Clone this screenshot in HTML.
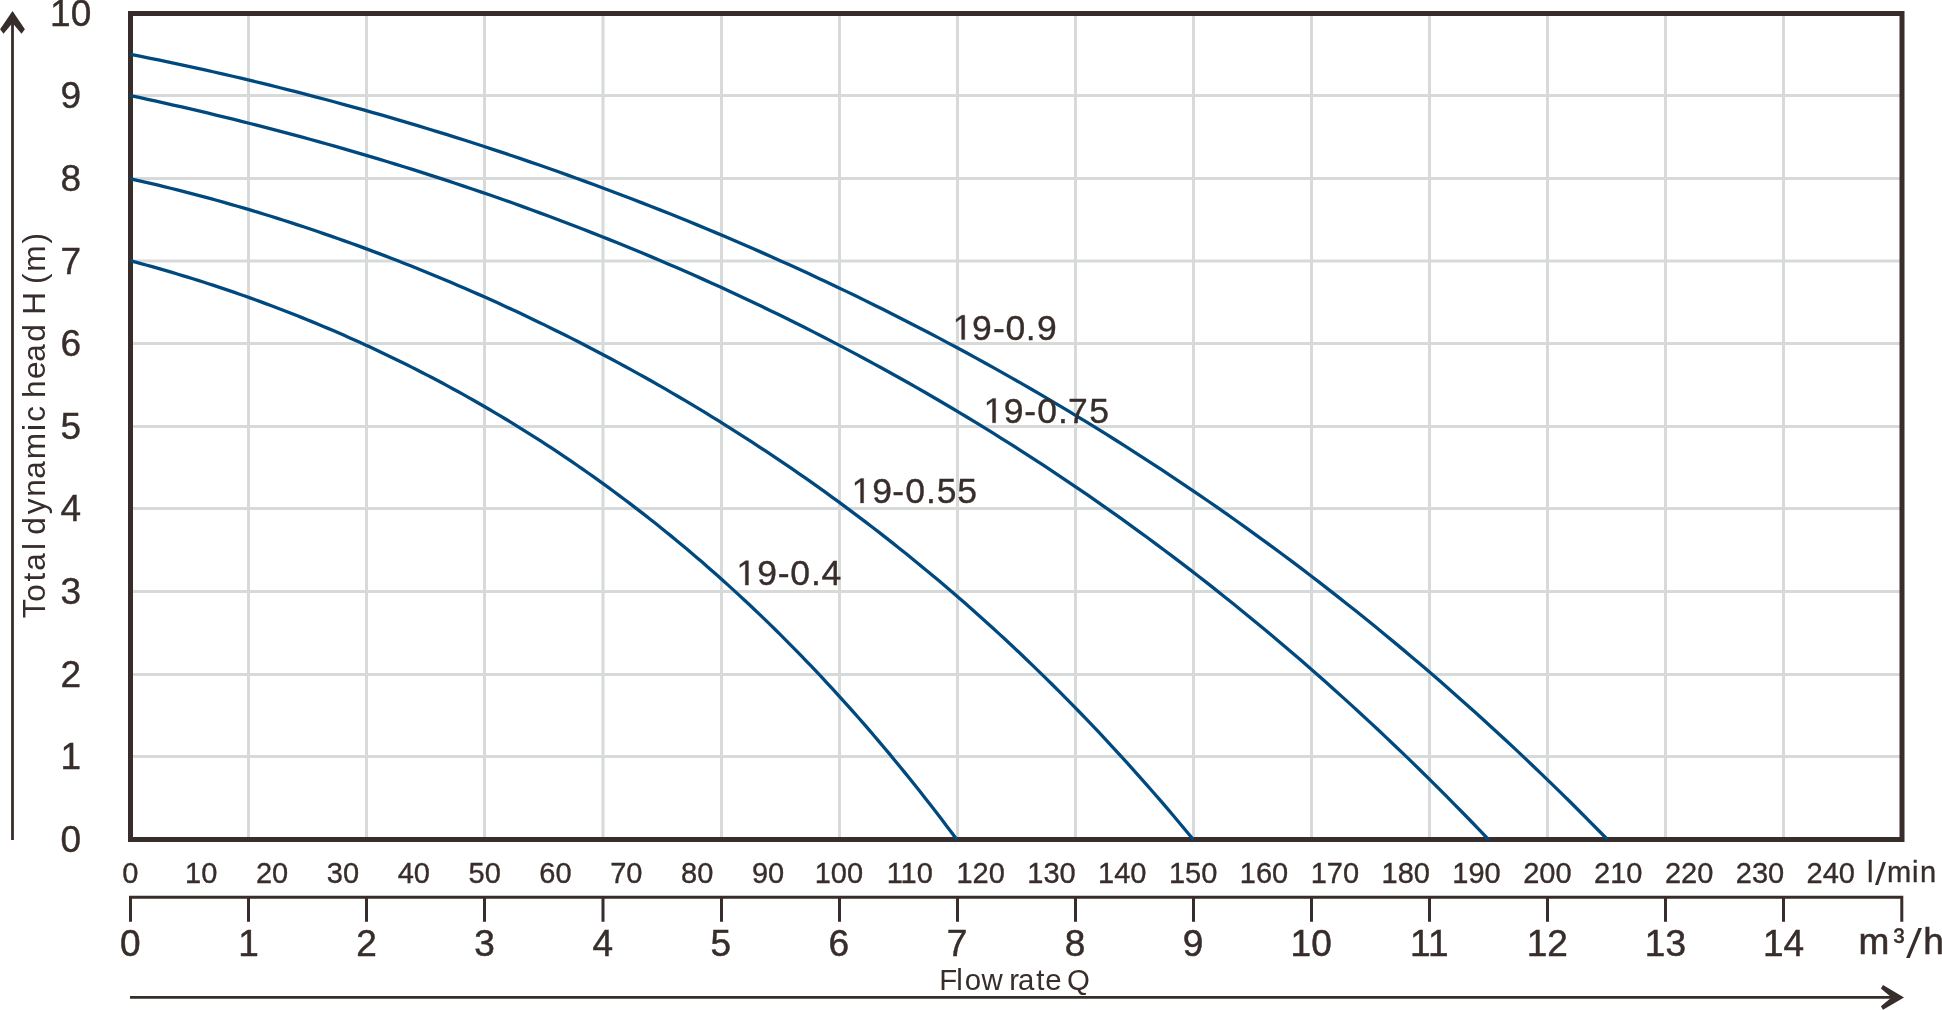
<!DOCTYPE html>
<html><head><meta charset="utf-8"><style>
html,body{margin:0;padding:0;background:#fff;width:1942px;height:1010px;overflow:hidden;position:relative}
</style></head><body>
<svg width="1942" height="1010" viewBox="0 0 1942 1010" style="position:absolute;left:0;top:0;will-change:transform">
<path d="M248.5 13V839M366.5 13V839M484.5 13V839M603 13V839M721.5 13V839M839.5 13V839M957.5 13V839M1075.5 13V839M1193.5 13V839M1311.5 13V839M1429.5 13V839M1547.5 13V839M1665.5 13V839M1783.5 13V839M130 756.5H1902M130 674.5H1902M130 591.5H1902M130 508.5H1902M130 426.5H1902M130 343.5H1902M130 260.9H1902M130 178.5H1902M130 95.5H1902" stroke="#d8d9d9" stroke-width="3" fill="none"/>
<rect x="130.5" y="13.5" width="1771.5" height="826" stroke="#372d2b" stroke-width="5" fill="none"/>
<path d="M130.50 260.81 L135.70 262.19 L140.89 263.60 L146.09 265.02 L151.29 266.46 L156.48 267.93 L161.68 269.41 L166.88 270.92 L172.07 272.45 L177.27 273.99 L182.47 275.56 L187.67 277.15 L192.86 278.76 L198.06 280.39 L203.26 282.05 L208.45 283.72 L213.65 285.42 L218.85 287.14 L224.04 288.87 L229.24 290.64 L234.44 292.42 L239.63 294.22 L244.83 296.05 L250.03 297.90 L255.22 299.77 L260.42 301.66 L265.62 303.58 L270.82 305.52 L276.01 307.48 L281.21 309.46 L286.41 311.47 L291.60 313.50 L296.80 315.56 L302.00 317.63 L307.19 319.73 L312.39 321.86 L317.59 324.00 L322.78 326.18 L327.98 328.37 L333.18 330.59 L338.37 332.83 L343.57 335.10 L348.77 337.40 L353.96 339.71 L359.16 342.06 L364.36 344.42 L369.56 346.82 L374.75 349.24 L379.95 351.68 L385.15 354.15 L390.34 356.65 L395.54 359.17 L400.74 361.72 L405.93 364.29 L411.13 366.89 L416.33 369.52 L421.52 372.18 L426.72 374.86 L431.92 377.57 L437.11 380.31 L442.31 383.08 L447.51 385.87 L452.71 388.69 L457.90 391.54 L463.10 394.42 L468.30 397.33 L473.49 400.27 L478.69 403.24 L483.89 406.23 L489.08 409.26 L494.28 412.31 L499.48 415.40 L504.67 418.52 L509.87 421.67 L515.07 424.84 L520.26 428.05 L525.46 431.29 L530.66 434.57 L535.85 437.87 L541.05 441.21 L546.25 444.58 L551.45 447.98 L556.64 451.42 L561.84 454.89 L567.04 458.39 L572.23 461.92 L577.43 465.49 L582.63 469.10 L587.82 472.73 L593.02 476.41 L598.22 480.12 L603.41 483.86 L608.61 487.64 L613.81 491.46 L619.00 495.31 L624.20 499.20 L629.40 503.12 L634.59 507.08 L639.79 511.08 L644.99 515.12 L650.19 519.20 L655.38 523.31 L660.58 527.46 L665.78 531.66 L670.97 535.89 L676.17 540.16 L681.37 544.47 L686.56 548.82 L691.76 553.21 L696.96 557.64 L702.15 562.12 L707.35 566.63 L712.55 571.19 L717.74 575.79 L722.94 580.43 L728.14 585.12 L733.34 589.85 L738.53 594.62 L743.73 599.43 L748.93 604.29 L754.12 609.20 L759.32 614.15 L764.52 619.15 L769.71 624.19 L774.91 629.28 L780.11 634.41 L785.30 639.59 L790.50 644.82 L795.70 650.10 L800.89 655.42 L806.09 660.80 L811.29 666.22 L816.48 671.69 L821.68 677.21 L826.88 682.78 L832.08 688.40 L837.27 694.07 L842.47 699.80 L847.67 705.57 L852.86 711.40 L858.06 717.28 L863.26 723.21 L868.45 729.20 L873.65 735.24 L878.85 741.33 L884.04 747.48 L889.24 753.68 L894.44 759.94 L899.63 766.26 L904.83 772.63 L910.03 779.05 L915.23 785.54 L920.42 792.08 L925.62 798.68 L930.82 805.34 L936.01 812.06 L941.21 818.83 L946.41 825.67 L951.60 832.57 L956.80 839.53" stroke="#00497f" stroke-width="3.3" fill="none" stroke-linejoin="round"/>
<path d="M130.50 178.81 L137.18 180.30 L143.87 181.83 L150.55 183.39 L157.24 184.97 L163.92 186.59 L170.61 188.23 L177.29 189.90 L183.97 191.60 L190.66 193.33 L197.34 195.09 L204.03 196.88 L210.71 198.69 L217.40 200.53 L224.08 202.41 L230.76 204.30 L237.45 206.23 L244.13 208.19 L250.82 210.17 L257.50 212.18 L264.19 214.22 L270.87 216.29 L277.55 218.38 L284.24 220.50 L290.92 222.65 L297.61 224.83 L304.29 227.04 L310.98 229.27 L317.66 231.53 L324.34 233.82 L331.03 236.13 L337.71 238.47 L344.40 240.84 L351.08 243.24 L357.77 245.67 L364.45 248.12 L371.13 250.60 L377.82 253.11 L384.50 255.65 L391.19 258.21 L397.87 260.81 L404.56 263.43 L411.24 266.08 L417.92 268.75 L424.61 271.46 L431.29 274.19 L437.98 276.95 L444.66 279.75 L451.35 282.56 L458.03 285.41 L464.71 288.29 L471.40 291.20 L478.08 294.13 L484.77 297.10 L491.45 300.09 L498.14 303.12 L504.82 306.17 L511.50 309.26 L518.19 312.37 L524.87 315.52 L531.56 318.69 L538.24 321.90 L544.93 325.13 L551.61 328.40 L558.29 331.70 L564.98 335.03 L571.66 338.40 L578.35 341.79 L585.03 345.22 L591.72 348.68 L598.40 352.17 L605.08 355.69 L611.77 359.25 L618.45 362.84 L625.14 366.47 L631.82 370.13 L638.51 373.82 L645.19 377.55 L651.87 381.31 L658.56 385.11 L665.24 388.94 L671.93 392.81 L678.61 396.72 L685.29 400.66 L691.98 404.64 L698.66 408.65 L705.35 412.71 L712.03 416.80 L718.72 420.93 L725.40 425.09 L732.08 429.30 L738.77 433.54 L745.45 437.83 L752.14 442.15 L758.82 446.51 L765.51 450.92 L772.19 455.37 L778.87 459.85 L785.56 464.38 L792.24 468.95 L798.93 473.57 L805.61 478.22 L812.30 482.92 L818.98 487.67 L825.66 492.46 L832.35 497.29 L839.03 502.17 L845.72 507.09 L852.40 512.06 L859.09 517.08 L865.77 522.15 L872.45 527.26 L879.14 532.42 L885.82 537.63 L892.51 542.89 L899.19 548.19 L905.88 553.55 L912.56 558.96 L919.24 564.42 L925.93 569.93 L932.61 575.49 L939.30 581.11 L945.98 586.78 L952.67 592.50 L959.35 598.28 L966.03 604.11 L972.72 610.00 L979.40 615.95 L986.09 621.95 L992.77 628.00 L999.46 634.12 L1006.14 640.30 L1012.82 646.53 L1019.51 652.82 L1026.19 659.18 L1032.88 665.59 L1039.56 672.07 L1046.25 678.61 L1052.93 685.21 L1059.61 691.87 L1066.30 698.60 L1072.98 705.39 L1079.67 712.25 L1086.35 719.18 L1093.04 726.17 L1099.72 733.23 L1106.40 740.36 L1113.09 747.55 L1119.77 754.82 L1126.46 762.15 L1133.14 769.56 L1139.83 777.04 L1146.51 784.59 L1153.19 792.22 L1159.88 799.91 L1166.56 807.69 L1173.25 815.53 L1179.93 823.46 L1186.62 831.46 L1193.30 839.54" stroke="#00497f" stroke-width="3.3" fill="none" stroke-linejoin="round"/>
<path d="M130.50 95.61 L139.04 97.45 L147.58 99.30 L156.12 101.19 L164.67 103.09 L173.21 105.02 L181.75 106.97 L190.29 108.95 L198.83 110.95 L207.37 112.98 L215.92 115.03 L224.46 117.11 L233.00 119.21 L241.54 121.33 L250.08 123.49 L258.62 125.66 L267.16 127.87 L275.71 130.10 L284.25 132.35 L292.79 134.63 L301.33 136.94 L309.87 139.27 L318.41 141.64 L326.95 144.02 L335.50 146.44 L344.04 148.88 L352.58 151.35 L361.12 153.85 L369.66 156.38 L378.20 158.93 L386.75 161.51 L395.29 164.13 L403.83 166.77 L412.37 169.43 L420.91 172.13 L429.45 174.86 L437.99 177.62 L446.54 180.40 L455.08 183.22 L463.62 186.07 L472.16 188.95 L480.70 191.86 L489.24 194.80 L497.78 197.77 L506.33 200.77 L514.87 203.81 L523.41 206.87 L531.95 209.97 L540.49 213.10 L549.03 216.27 L557.58 219.46 L566.12 222.69 L574.66 225.96 L583.20 229.26 L591.74 232.59 L600.28 235.95 L608.82 239.36 L617.37 242.79 L625.91 246.26 L634.45 249.77 L642.99 253.31 L651.53 256.89 L660.07 260.50 L668.62 264.16 L677.16 267.84 L685.70 271.57 L694.24 275.33 L702.78 279.13 L711.32 282.97 L719.86 286.85 L728.41 290.76 L736.95 294.72 L745.49 298.71 L754.03 302.75 L762.57 306.82 L771.11 310.94 L779.65 315.09 L788.20 319.29 L796.74 323.52 L805.28 327.80 L813.82 332.12 L822.36 336.49 L830.90 340.89 L839.45 345.34 L847.99 349.84 L856.53 354.37 L865.07 358.95 L873.61 363.58 L882.15 368.25 L890.69 372.96 L899.24 377.72 L907.78 382.53 L916.32 387.38 L924.86 392.28 L933.40 397.22 L941.94 402.22 L950.48 407.26 L959.03 412.35 L967.57 417.48 L976.11 422.67 L984.65 427.91 L993.19 433.19 L1001.73 438.53 L1010.28 443.91 L1018.82 449.35 L1027.36 454.84 L1035.90 460.38 L1044.44 465.97 L1052.98 471.61 L1061.52 477.31 L1070.07 483.06 L1078.61 488.87 L1087.15 494.72 L1095.69 500.64 L1104.23 506.61 L1112.77 512.63 L1121.32 518.71 L1129.86 524.84 L1138.40 531.04 L1146.94 537.29 L1155.48 543.59 L1164.02 549.96 L1172.56 556.38 L1181.11 562.87 L1189.65 569.41 L1198.19 576.01 L1206.73 582.67 L1215.27 589.40 L1223.81 596.18 L1232.35 603.03 L1240.90 609.94 L1249.44 616.91 L1257.98 623.94 L1266.52 631.04 L1275.06 638.20 L1283.60 645.43 L1292.15 652.72 L1300.69 660.08 L1309.23 667.50 L1317.77 674.99 L1326.31 682.55 L1334.85 690.18 L1343.39 697.87 L1351.94 705.63 L1360.48 713.46 L1369.02 721.36 L1377.56 729.33 L1386.10 737.37 L1394.64 745.48 L1403.18 753.66 L1411.73 761.92 L1420.27 770.25 L1428.81 778.65 L1437.35 787.12 L1445.89 795.67 L1454.43 804.30 L1462.98 813.00 L1471.52 821.77 L1480.06 830.62 L1488.60 839.55" stroke="#00497f" stroke-width="3.3" fill="none" stroke-linejoin="round"/>
<path d="M130.50 54.30 L139.79 56.14 L149.08 58.01 L158.37 59.92 L167.65 61.85 L176.94 63.82 L186.23 65.81 L195.52 67.84 L204.81 69.90 L214.10 71.99 L223.39 74.11 L232.68 76.26 L241.96 78.45 L251.25 80.66 L260.54 82.91 L269.83 85.19 L279.12 87.50 L288.41 89.84 L297.70 92.21 L306.98 94.61 L316.27 97.05 L325.56 99.51 L334.85 102.01 L344.14 104.54 L353.43 107.10 L362.72 109.69 L372.01 112.31 L381.29 114.96 L390.58 117.65 L399.87 120.37 L409.16 123.12 L418.45 125.90 L427.74 128.72 L437.03 131.56 L446.32 134.44 L455.60 137.35 L464.89 140.30 L474.18 143.27 L483.47 146.28 L492.76 149.32 L502.05 152.40 L511.34 155.51 L520.62 158.65 L529.91 161.82 L539.20 165.03 L548.49 168.27 L557.78 171.55 L567.07 174.86 L576.36 178.21 L585.65 181.58 L594.93 185.00 L604.22 188.45 L613.51 191.93 L622.80 195.45 L632.09 199.01 L641.38 202.60 L650.67 206.22 L659.95 209.89 L669.24 213.58 L678.53 217.32 L687.82 221.09 L697.11 224.90 L706.40 228.75 L715.69 232.63 L724.98 236.56 L734.26 240.52 L743.55 244.52 L752.84 248.55 L762.13 252.63 L771.42 256.75 L780.71 260.90 L790.00 265.10 L799.28 269.33 L808.57 273.61 L817.86 277.93 L827.15 282.29 L836.44 286.68 L845.73 291.13 L855.02 295.61 L864.31 300.14 L873.59 304.70 L882.88 309.32 L892.17 313.97 L901.46 318.67 L910.75 323.41 L920.04 328.20 L929.33 333.03 L938.62 337.91 L947.90 342.84 L957.19 347.81 L966.48 352.82 L975.77 357.89 L985.06 363.00 L994.35 368.16 L1003.64 373.36 L1012.92 378.62 L1022.21 383.92 L1031.50 389.28 L1040.79 394.68 L1050.08 400.13 L1059.37 405.64 L1068.66 411.19 L1077.95 416.80 L1087.23 422.46 L1096.52 428.18 L1105.81 433.94 L1115.10 439.76 L1124.39 445.63 L1133.68 451.56 L1142.97 457.55 L1152.25 463.58 L1161.54 469.68 L1170.83 475.83 L1180.12 482.04 L1189.41 488.31 L1198.70 494.63 L1207.99 501.01 L1217.28 507.46 L1226.56 513.96 L1235.85 520.52 L1245.14 527.14 L1254.43 533.83 L1263.72 540.58 L1273.01 547.38 L1282.30 554.26 L1291.58 561.19 L1300.87 568.19 L1310.16 575.26 L1319.45 582.39 L1328.74 589.59 L1338.03 596.85 L1347.32 604.18 L1356.61 611.58 L1365.89 619.05 L1375.18 626.59 L1384.47 634.20 L1393.76 641.87 L1403.05 649.62 L1412.34 657.44 L1421.63 665.34 L1430.92 673.30 L1440.20 681.34 L1449.49 689.45 L1458.78 697.64 L1468.07 705.91 L1477.36 714.25 L1486.65 722.67 L1495.94 731.17 L1505.22 739.74 L1514.51 748.39 L1523.80 757.13 L1533.09 765.94 L1542.38 774.84 L1551.67 783.82 L1560.96 792.88 L1570.25 802.03 L1579.53 811.25 L1588.82 820.57 L1598.11 829.97 L1607.40 839.46" stroke="#00497f" stroke-width="3.3" fill="none" stroke-linejoin="round"/>
<path d="M12.5 20V840" stroke="#372d2b" stroke-width="2.8" fill="none"/>
<path d="M12.5 10.9L24.9 29.2L21.5 33.7L12.5 23L3.5 33.7L0.1 29.2Z" fill="#372d2b"/>
<g fill="#372d2b" font-family="Liberation Sans, sans-serif"><text x="70.7" y="851.70" text-anchor="middle" font-size="37" stroke="#372d2b" stroke-width="0.4">0</text><text x="70.7" y="769.10" text-anchor="middle" font-size="37" stroke="#372d2b" stroke-width="0.4">1</text><text x="70.7" y="686.50" text-anchor="middle" font-size="37" stroke="#372d2b" stroke-width="0.4">2</text><text x="70.7" y="603.90" text-anchor="middle" font-size="37" stroke="#372d2b" stroke-width="0.4">3</text><text x="70.7" y="521.30" text-anchor="middle" font-size="37" stroke="#372d2b" stroke-width="0.4">4</text><text x="70.7" y="438.70" text-anchor="middle" font-size="37" stroke="#372d2b" stroke-width="0.4">5</text><text x="70.7" y="356.10" text-anchor="middle" font-size="37" stroke="#372d2b" stroke-width="0.4">6</text><text x="70.7" y="273.50" text-anchor="middle" font-size="37" stroke="#372d2b" stroke-width="0.4">7</text><text x="70.7" y="190.90" text-anchor="middle" font-size="37" stroke="#372d2b" stroke-width="0.4">8</text><text x="70.7" y="108.30" text-anchor="middle" font-size="37" stroke="#372d2b" stroke-width="0.4">9</text><text x="70.7" y="25.70" text-anchor="middle" font-size="37" stroke="#372d2b" stroke-width="0.4">10</text><path stroke="#372d2b" stroke-width="20.1915" transform="translate(952.69 339.6) scale(0.017334 -0.017334)" d="M515 0L515 1237L197 1010L197 1180L530 1409L696 1409L696 0Z"/><text y="339.6" font-size="35.5" stroke="#372d2b" stroke-width="0.35"><tspan x="971.99">9</tspan><tspan x="992.99">-</tspan><tspan x="1005.58">0</tspan><tspan x="1025.87">.</tspan><tspan x="1037.09">9</tspan></text><path stroke="#372d2b" stroke-width="20.1915" transform="translate(983.59 422.8) scale(0.017334 -0.017334)" d="M515 0L515 1237L197 1010L197 1180L530 1409L696 1409L696 0Z"/><text y="422.8" font-size="35.5" stroke="#372d2b" stroke-width="0.35"><tspan x="1003.69">9</tspan><tspan x="1024.14">-</tspan><tspan x="1037.23">0</tspan><tspan x="1058.02">.</tspan><tspan x="1068.11">7</tspan><tspan x="1089.21">5</tspan></text><path stroke="#372d2b" stroke-width="20.1915" transform="translate(851.59 502.9) scale(0.017334 -0.017334)" d="M515 0L515 1237L197 1010L197 1180L530 1409L696 1409L696 0Z"/><text y="502.9" font-size="35.5" stroke="#372d2b" stroke-width="0.35"><tspan x="872.14">9</tspan><tspan x="892.14">-</tspan><tspan x="905.18">0</tspan><tspan x="926.02">.</tspan><tspan x="936.71">5</tspan><tspan x="957.21">5</tspan></text><path stroke="#372d2b" stroke-width="20.1915" transform="translate(736.39 585.1) scale(0.017334 -0.017334)" d="M515 0L515 1237L197 1010L197 1180L530 1409L696 1409L696 0Z"/><text y="585.1" font-size="35.5" stroke="#372d2b" stroke-width="0.35"><tspan x="757.19">9</tspan><tspan x="777.69">-</tspan><tspan x="790.18">0</tspan><tspan x="811.12">.</tspan><tspan x="821.44">4</tspan></text><g transform="translate(44.8 615.9) rotate(-90)"><text y="0" font-size="31.6"><tspan x="-2.24">T</tspan><tspan x="14.21">o</tspan><tspan x="34.44">t</tspan><tspan x="45.09">a</tspan><tspan x="65.88">l</tspan><tspan x="81.12">d</tspan><tspan x="101.54">y</tspan><tspan x="119.04">n</tspan><tspan x="137.14">a</tspan><tspan x="156.58">m</tspan><tspan x="185.00">i</tspan><tspan x="194.20">c</tspan><tspan x="217.94">h</tspan><tspan x="236.94">e</tspan><tspan x="254.14">a</tspan><tspan x="274.07">d</tspan><tspan x="301.08">H</tspan><tspan x="331.80">(</tspan><tspan x="344.28">m</tspan><tspan x="372.38">)</tspan></text></g><text x="130.40" y="883.2" text-anchor="middle" font-size="29" stroke="#372d2b" stroke-width="0.35">0</text><text x="201.25" y="883.2" text-anchor="middle" font-size="29" stroke="#372d2b" stroke-width="0.35">10</text><text x="272.10" y="883.2" text-anchor="middle" font-size="29" stroke="#372d2b" stroke-width="0.35">20</text><text x="342.95" y="883.2" text-anchor="middle" font-size="29" stroke="#372d2b" stroke-width="0.35">30</text><text x="413.80" y="883.2" text-anchor="middle" font-size="29" stroke="#372d2b" stroke-width="0.35">40</text><text x="484.65" y="883.2" text-anchor="middle" font-size="29" stroke="#372d2b" stroke-width="0.35">50</text><text x="555.50" y="883.2" text-anchor="middle" font-size="29" stroke="#372d2b" stroke-width="0.35">60</text><text x="626.35" y="883.2" text-anchor="middle" font-size="29" stroke="#372d2b" stroke-width="0.35">70</text><text x="697.20" y="883.2" text-anchor="middle" font-size="29" stroke="#372d2b" stroke-width="0.35">80</text><text x="768.05" y="883.2" text-anchor="middle" font-size="29" stroke="#372d2b" stroke-width="0.35">90</text><text x="838.90" y="883.2" text-anchor="middle" font-size="29" stroke="#372d2b" stroke-width="0.35">100</text><text x="909.75" y="883.2" text-anchor="middle" font-size="29" stroke="#372d2b" stroke-width="0.35">110</text><text x="980.60" y="883.2" text-anchor="middle" font-size="29" stroke="#372d2b" stroke-width="0.35">120</text><text x="1051.45" y="883.2" text-anchor="middle" font-size="29" stroke="#372d2b" stroke-width="0.35">130</text><text x="1122.30" y="883.2" text-anchor="middle" font-size="29" stroke="#372d2b" stroke-width="0.35">140</text><text x="1193.15" y="883.2" text-anchor="middle" font-size="29" stroke="#372d2b" stroke-width="0.35">150</text><text x="1264.00" y="883.2" text-anchor="middle" font-size="29" stroke="#372d2b" stroke-width="0.35">160</text><text x="1334.85" y="883.2" text-anchor="middle" font-size="29" stroke="#372d2b" stroke-width="0.35">170</text><text x="1405.70" y="883.2" text-anchor="middle" font-size="29" stroke="#372d2b" stroke-width="0.35">180</text><text x="1476.55" y="883.2" text-anchor="middle" font-size="29" stroke="#372d2b" stroke-width="0.35">190</text><text x="1547.40" y="883.2" text-anchor="middle" font-size="29" stroke="#372d2b" stroke-width="0.35">200</text><text x="1618.25" y="883.2" text-anchor="middle" font-size="29" stroke="#372d2b" stroke-width="0.35">210</text><text x="1689.10" y="883.2" text-anchor="middle" font-size="29" stroke="#372d2b" stroke-width="0.35">220</text><text x="1759.95" y="883.2" text-anchor="middle" font-size="29" stroke="#372d2b" stroke-width="0.35">230</text><text x="1830.80" y="883.2" text-anchor="middle" font-size="29" stroke="#372d2b" stroke-width="0.35">240</text><text y="882.0" font-size="29" stroke="#372d2b" stroke-width="0.35"><tspan x="1867.05">l</tspan><tspan x="1887.07">m</tspan><tspan x="1912.06">i</tspan><tspan x="1919.97">n</tspan></text><path d="M1875 884.9L1878.1 884.9L1885.9 862L1882.8 862Z"/><text x="130.40" y="955.5" text-anchor="middle" font-size="37" stroke="#372d2b" stroke-width="0.5">0</text><text x="248.48" y="955.5" text-anchor="middle" font-size="37" stroke="#372d2b" stroke-width="0.5">1</text><text x="366.56" y="955.5" text-anchor="middle" font-size="37" stroke="#372d2b" stroke-width="0.5">2</text><text x="484.64" y="955.5" text-anchor="middle" font-size="37" stroke="#372d2b" stroke-width="0.5">3</text><text x="602.72" y="955.5" text-anchor="middle" font-size="37" stroke="#372d2b" stroke-width="0.5">4</text><text x="720.80" y="955.5" text-anchor="middle" font-size="37" stroke="#372d2b" stroke-width="0.5">5</text><text x="838.88" y="955.5" text-anchor="middle" font-size="37" stroke="#372d2b" stroke-width="0.5">6</text><text x="956.96" y="955.5" text-anchor="middle" font-size="37" stroke="#372d2b" stroke-width="0.5">7</text><text x="1075.04" y="955.5" text-anchor="middle" font-size="37" stroke="#372d2b" stroke-width="0.5">8</text><text x="1193.12" y="955.5" text-anchor="middle" font-size="37" stroke="#372d2b" stroke-width="0.5">9</text><text x="1311.20" y="955.5" text-anchor="middle" font-size="37" stroke="#372d2b" stroke-width="0.5">10</text><text x="1429.28" y="955.5" text-anchor="middle" font-size="37" stroke="#372d2b" stroke-width="0.5">11</text><text x="1547.36" y="955.5" text-anchor="middle" font-size="37" stroke="#372d2b" stroke-width="0.5">12</text><text x="1665.44" y="955.5" text-anchor="middle" font-size="37" stroke="#372d2b" stroke-width="0.5">13</text><text x="1783.52" y="955.5" text-anchor="middle" font-size="37" stroke="#372d2b" stroke-width="0.5">14</text><text y="954.0" font-size="37" stroke="#372d2b" stroke-width="0.6"><tspan x="1858.59">m</tspan><tspan x="1923.23">h</tspan></text><text y="952.0" font-size="33" stroke="#372d2b" stroke-width="0.4"><tspan x="1893.51">³</tspan></text><path d="M1906.1 957.9L1909.7 957.9L1922 928.1L1918.4 928.1Z"/><text y="990.0" font-size="29.4"><tspan x="939.35">F</tspan><tspan x="956.23">l</tspan><tspan x="964.82">o</tspan><tspan x="981.42">w</tspan><tspan x="1009.22">r</tspan><tspan x="1018.10">a</tspan><tspan x="1036.25">t</tspan><tspan x="1045.35">e</tspan><tspan x="1067.02">Q</tspan></text></g>
<path d="M129 897.3H1903.3M130.50 897.3V921.8M248.50 897.3V921.8M366.50 897.3V921.8M484.50 897.3V921.8M603.00 897.3V921.8M721.50 897.3V921.8M839.50 897.3V921.8M957.50 897.3V921.8M1075.50 897.3V921.8M1193.50 897.3V921.8M1311.50 897.3V921.8M1429.50 897.3V921.8M1547.50 897.3V921.8M1665.50 897.3V921.8M1783.50 897.3V921.8M1901.80 897.3V921.8" stroke="#372d2b" stroke-width="3" fill="none"/>
<path d="M130 997.35H1893" stroke="#372d2b" stroke-width="2.8" fill="none"/>
<path d="M1904 997.4L1883 985.05L1880.9 988.5L1891.5 997.4L1880.9 1006.3L1883 1009.75Z" fill="#372d2b"/>
</svg>
</body></html>
